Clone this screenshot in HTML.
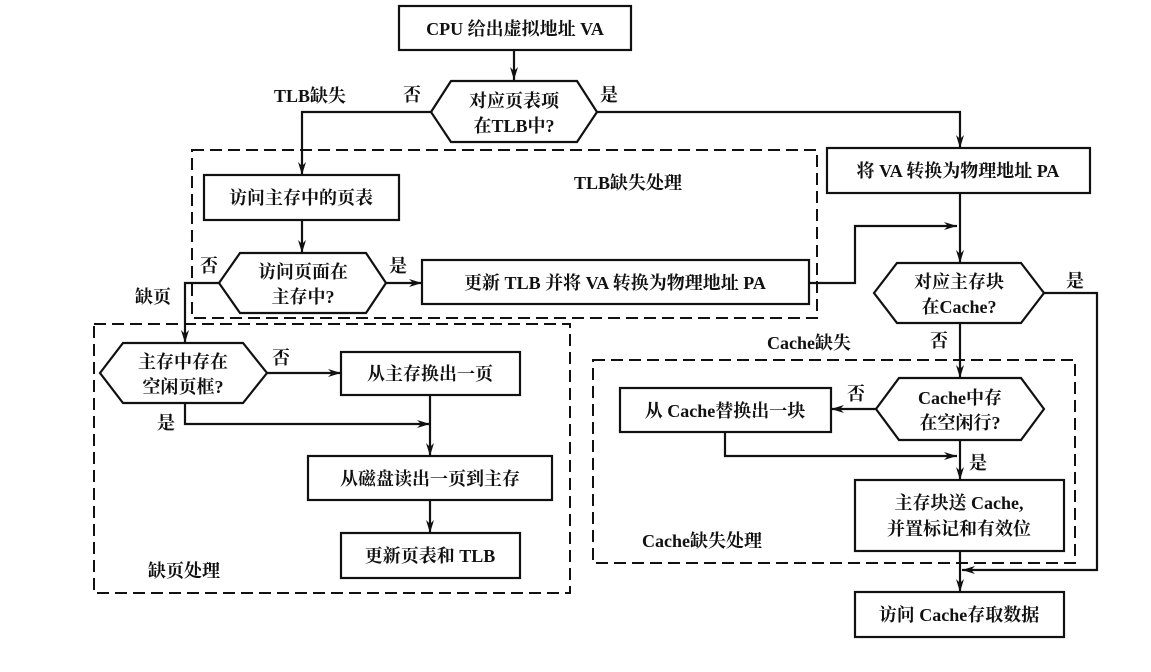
<!DOCTYPE html>
<html><head><meta charset="utf-8"><style>
html,body{margin:0;padding:0;background:#fff}
svg text{font-family:"Liberation Serif","Noto Serif CJK SC","Noto Sans CJK SC",serif;font-weight:bold;font-size:18px;fill:#111}
</style></head><body>
<svg width="1151" height="667" viewBox="0 0 1151 667" xmlns="http://www.w3.org/2000/svg">
<defs><marker id="a" markerWidth="14" markerHeight="10" refX="13" refY="5" orient="auto" markerUnits="userSpaceOnUse"><path d="M0,1 L13,5 L0,9 L4,5 Z" fill="#111"/></marker></defs>
<g fill="none" stroke="#111" stroke-width="2.2">
<!-- dashed boxes -->
<g stroke-dasharray="12,6" stroke-width="2">
<rect x="192" y="150" width="625" height="168"/>
<rect x="94" y="324" width="476" height="269"/>
<rect x="593" y="360" width="482" height="203"/>
</g>
<!-- boxes -->
<rect x="399" y="6" width="232" height="44"/>
<rect x="204" y="175" width="195" height="45"/>
<rect x="422" y="260" width="387" height="44"/>
<rect x="827" y="148" width="263" height="45"/>
<rect x="341" y="352" width="179" height="43"/>
<rect x="308" y="456" width="244" height="44"/>
<rect x="341" y="533" width="179" height="45"/>
<rect x="620" y="388" width="211" height="44"/>
<rect x="855" y="480" width="209" height="71"/>
<rect x="855" y="592" width="209" height="45"/>
<!-- diamonds (hexagons) -->
<polygon points="431,112 451,81 577,81 597,112 577,142 451,142"/>
<polygon points="219,283 240,253 366,253 386,283 366,313 240,313"/>
<polygon points="100,373 123,343 243,343 267,373 243,403 123,403"/>
<polygon points="874,293 897,263 1021,263 1044,293 1021,323 897,323"/>
<polygon points="876,409 899,378 1021,378 1044,409 1021,440 899,440"/>
<!-- connectors -->
<path d="M514,50 V80" marker-end="url(#a)"/>
<path d="M431,112 H302 V175" marker-end="url(#a)"/>
<path d="M597,112 H960 V148" marker-end="url(#a)"/>
<path d="M302,220 V253" marker-end="url(#a)"/>
<path d="M386,283 H422" marker-end="url(#a)"/>
<path d="M809,283 H855 V226 H957" marker-end="url(#a)"/>
<path d="M960,193 V263" marker-end="url(#a)"/>
<path d="M219,283 H185 V343" marker-end="url(#a)"/>
<path d="M267,373 H341" marker-end="url(#a)"/>
<path d="M185,403 V424 H430" marker-end="url(#a)"/>
<path d="M430,395 V456" marker-end="url(#a)"/>
<path d="M430,500 V533" marker-end="url(#a)"/>
<path d="M1044,293 H1097 V570 H962" marker-end="url(#a)"/>
<path d="M960,323 V378" marker-end="url(#a)"/>
<path d="M876,409 H831" marker-end="url(#a)"/>
<path d="M725,432 V456 H957" marker-end="url(#a)"/>
<path d="M960,440 V480" marker-end="url(#a)"/>
<path d="M960,551 V592" marker-end="url(#a)"/>
</g>
<g>
<text x="515" y="35" text-anchor="middle">CPU 给出虚拟地址 VA</text>
<text x="514" y="107" text-anchor="middle">对应页表项</text>
<text x="514" y="132" text-anchor="middle">在TLB中?</text>
<text x="274" y="102">TLB缺失</text>
<text x="403" y="101">否</text>
<text x="600" y="101">是</text>
<text x="574" y="189">TLB缺失处理</text>
<text x="301" y="204" text-anchor="middle">访问主存中的页表</text>
<text x="303" y="278" text-anchor="middle">访问页面在</text>
<text x="303" y="303" text-anchor="middle">主存中?</text>
<text x="200" y="272">否</text>
<text x="389" y="272">是</text>
<text x="615" y="289" text-anchor="middle">更新 TLB 并将 VA 转换为物理地址 PA</text>
<text x="135" y="303">缺页</text>
<text x="958" y="177" text-anchor="middle">将 VA 转换为物理地址 PA</text>
<text x="959" y="288" text-anchor="middle">对应主存块</text>
<text x="959" y="313" text-anchor="middle">在Cache?</text>
<text x="1066" y="287">是</text>
<text x="767" y="349">Cache缺失</text>
<text x="930" y="347">否</text>
<text x="960" y="404" text-anchor="middle">Cache中存</text>
<text x="960" y="429" text-anchor="middle">在空闲行?</text>
<text x="847" y="400">否</text>
<text x="725" y="417" text-anchor="middle">从 Cache替换出一块</text>
<text x="969" y="469">是</text>
<text x="959" y="509" text-anchor="middle">主存块送 Cache,</text>
<text x="959" y="535" text-anchor="middle">并置标记和有效位</text>
<text x="642" y="547">Cache缺失处理</text>
<text x="959" y="621" text-anchor="middle">访问 Cache存取数据</text>
<text x="183" y="368" text-anchor="middle">主存中存在</text>
<text x="183" y="393" text-anchor="middle">空闲页框?</text>
<text x="272" y="364">否</text>
<text x="157" y="429">是</text>
<text x="430" y="380" text-anchor="middle">从主存换出一页</text>
<text x="430" y="485" text-anchor="middle">从磁盘读出一页到主存</text>
<text x="430" y="562" text-anchor="middle">更新页表和 TLB</text>
<text x="148" y="577">缺页处理</text>
</g>
</svg>
</body></html>
